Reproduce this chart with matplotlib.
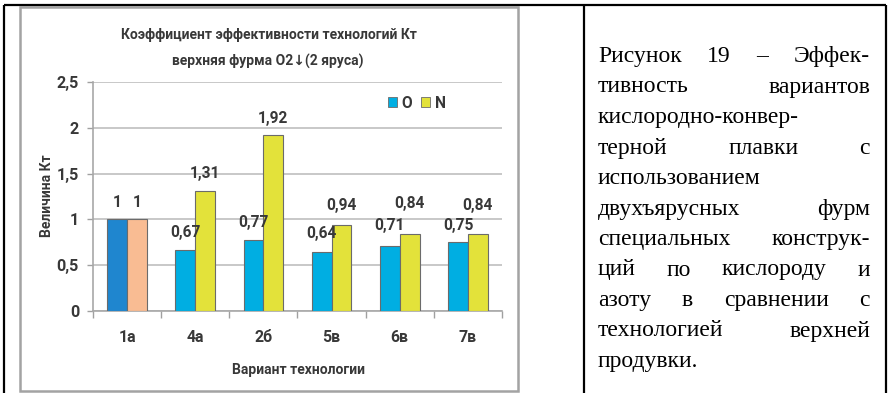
import matplotlib
matplotlib.use("Agg")
import matplotlib.pyplot as plt
from matplotlib.lines import Line2D
from matplotlib.patches import Rectangle, Patch

# ---- data ----
categories = ["1а", "4а", "2б", "5в", "6в", "7в"]
values_o = [1.00, 0.67, 0.77, 0.64, 0.71, 0.75]
values_n = [1.00, 1.31, 1.92, 0.94, 0.84, 0.84]
series_names = ["O", "N"]
y_ticks = [0, 0.5, 1, 1.5, 2, 2.5]
y_tick_labels = ["0", "0,5", "1", "1,5", "2", "2,5"]
title_lines = ["Коэффициент эффективности технологий Кт",
               "верхняя фурма О2↓(2 яруса)"]
x_title = "Вариант технологии"
y_title = "Величина Кт"
caption_lines = [
    (["Рисунок", "19", "–", "Эффек-"], True),
    (["тивность", "вариантов"], True),
    (["кислородно-конвер-"], False),
    (["терной", "плавки", "с"], True),
    (["использованием"], False),
    (["двухъярусных", "фурм"], True),
    (["специальных", "конструк-"], True),
    (["ций", "по", "кислороду", "и"], True),
    (["азоту", "в", "сравнении", "с"], True),
    (["технологией", "верхней"], True),
    (["продувки."], False),
]

# label lift above each bar top, in pixels
lift_o = [17, 18, 18, 19, 21, 17]
lift_n = [17, 18, 17, 20, 31, 29]

W, H = 890, 393
fig = plt.figure(figsize=(W / 100, H / 100), dpi=100)
fig.patch.set_facecolor("white")


def fx(x):
    return x / W


def fy(y):
    return 1 - y / H


chart_font = ["Roboto", "DejaVu Sans"]
txt_col = "#383838"
fs = 10

# ---- table frame ----
tbl = dict(color="black", lw=1.6, transform=fig.transFigure, solid_capstyle="butt")
fig.add_artist(Line2D([fx(4), fx(886)], [fy(5), fy(5)], **tbl))
for xv in (4, 584, 886):
    fig.add_artist(Line2D([fx(xv), fx(xv)], [fy(5), fy(393)], **tbl))

# ---- chart frame ----
fig.add_artist(Rectangle((fx(20), fy(391)), fx(518) - fx(20), fy(7) - fy(391),
                         transform=fig.transFigure, fill=False,
                         edgecolor="#a3a3a3", lw=1.8))

# ---- bar chart ----
ax = fig.add_axes([fx(93), fy(311), fx(502) - fx(93), fy(82) - fy(311)])
ax.set_facecolor("none")
idx = list(range(len(categories)))
bw = 0.29
col_o = ["#1f86cf"] + ["#00aee2"] * (len(categories) - 1)
col_n = ["#f9bc93"] + ["#e3e23a"] * (len(categories) - 1)
bars_o = ax.bar([i - bw / 2 for i in idx], values_o, bw, color=col_o,
                edgecolor="#6b6b6b", lw=0.8, zorder=3)
bars_n = ax.bar([i + bw / 2 for i in idx], values_n, bw, color=col_n,
                edgecolor="#6b6b6b", lw=0.8, zorder=3)

for bars, vals, lifts in ((bars_o, values_o, lift_o), (bars_n, values_n, lift_n)):
    for b, v, d in zip(bars, vals, lifts):
        lab = f"{v:g}".replace(".", ",")
        ax.annotate(lab, (b.get_x() + b.get_width() / 2, v),
                    xytext=(0, d - 5), textcoords="offset pixels",
                    ha="center", va="baseline", fontsize=fs + 1.2,
                    fontweight="bold", color=txt_col, family=chart_font,
                    zorder=4)

ax.set_xlim(-0.5, len(categories) - 0.5)
ax.set_ylim(0, 2.5)
ax.set_yticks(y_ticks)
ax.set_yticklabels(y_tick_labels, fontsize=fs + 1.6, fontweight="bold",
                   color=txt_col, family=chart_font)
ax.yaxis.grid(True, color="#c4c4c4", lw=1.3, zorder=0)
ax.set_axisbelow(True)

ax.set_xticks([i - 0.5 for i in range(len(categories) + 1)])
ax.set_xticklabels([])
ax.set_xticks(idx, minor=True)
ax.set_xticklabels(categories, minor=True, fontsize=fs + 1.4, fontweight="bold",
                   color=txt_col, family=chart_font)
ax.tick_params(axis="x", which="major", length=5, width=1, color="#a0a0a0",
               direction="out")
ax.tick_params(axis="x", which="minor", length=0, pad=14)
ax.tick_params(axis="y", length=4, width=1, color="#a0a0a0", pad=6)

for s in ("top", "right"):
    ax.spines[s].set_visible(False)
for s in ("left", "bottom"):
    ax.spines[s].set_color("#a8a8a8")
    ax.spines[s].set_linewidth(1.2)

leg = ax.legend(handles=[Patch(facecolor="#00aee2", edgecolor="#6b6b6b", lw=0.6),
                         Patch(facecolor="#e3e23a", edgecolor="#6b6b6b", lw=0.6)],
                labels=series_names, ncol=2, frameon=False,
                loc="center", bbox_to_anchor=(0.792, 0.908),
                handlelength=0.55, handleheight=0.55, handletextpad=0.3,
                columnspacing=0.6, borderpad=0.2,
                prop=dict(family=chart_font, weight="bold", size=fs + 1.2))
for t in leg.get_texts():
    t.set_color(txt_col)

# titles and axis names
fig.text(fx(269), fy(35), title_lines[0], ha="center", va="center",
         fontsize=fs, fontweight="bold", color=txt_col, family=chart_font)
fig.text(fx(268), fy(61), title_lines[1], ha="center", va="center",
         fontsize=fs, fontweight="bold", color=txt_col, family=chart_font)
fig.text(fx(298), fy(370), x_title, ha="center", va="center",
         fontsize=fs, fontweight="bold", color=txt_col, family=chart_font)
fig.text(fx(47), fy(196), y_title, ha="center", va="center", rotation=90,
         fontsize=fs, fontweight="bold", color=txt_col, family=chart_font)

# ---- caption in the right cell, justified ----
renderer = fig.canvas.get_renderer()
cap_kw = dict(fontsize=17, family=["Liberation Serif", "DejaVu Serif"],
              color="black", va="baseline")
x_left, x_right = 598, 870
base0, step = 62, 30.5


def word_width(word):
    t = fig.text(0, 0, word, **cap_kw)
    w = t.get_window_extent(renderer=renderer).width
    t.remove()
    return w


for k, (words, justify) in enumerate(caption_lines):
    yb = fy(base0 + k * step)
    if not justify or len(words) == 1:
        fig.text(fx(x_left), yb, " ".join(words), ha="left", **cap_kw)
        continue
    widths = [word_width(w) for w in words]
    gap = (x_right - x_left - sum(widths)) / (len(words) - 1)
    x = x_left
    for w, wd in zip(words, widths):
        fig.text(fx(x), yb, w, ha="left", **cap_kw)
        x += wd + gap

fig.savefig("out.png", dpi=100, facecolor="white")
